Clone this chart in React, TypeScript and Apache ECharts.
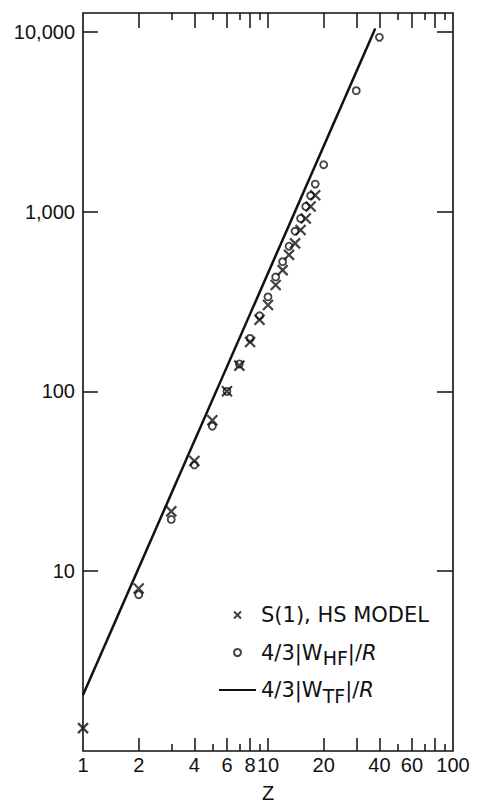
import React, { useEffect, useRef } from 'react';
import * as echarts from 'echarts';

// Z values and series
const hsZ = [1, 2, 3, 4, 5, 6, 7, 8, 9, 10, 11, 12, 13, 14, 15, 16, 17, 18];
const hsValues = [1.34, 8.0, 21.5, 41, 69, 100, 139, 188, 250, 302, 390, 472, 574, 665, 789, 915, 1066, 1230];

const hfZ = [2, 3, 4, 5, 6, 7, 8, 9, 10, 11, 12, 13, 14, 15, 16, 17, 18, 20, 30, 40];
const hfValues = [7.4, 19.4, 39, 64, 100, 142, 197, 263, 335, 432, 526, 641, 776, 915, 1066, 1225, 1420, 1820, 4700, 9300];

const tfZ = [1, 38];
const tfValues = [2.05, 10400];

const xLabelValues = [1, 2, 4, 6, 8, 10, 20, 40, 60, 100];
const xLabelTexts = ['1', '2', '4', '6', '8', '10', '20', '40', '60', '100'];
const xLongTicks = [2, 4, 6, 8, 10, 20, 30, 40, 60, 80];
const xShortTicks = [3, 5, 7, 9, 50, 70, 90];

const yTickValues = [10, 100, 1000, 10000];
const yTickTexts = ['10', '100', '1,000', '10,000'];

const nameHS = 'S(1), HS MODEL';
const nameHF = '4/3|WHF|/R';
const nameTF = '4/3|WTF|/R';

const AXIS_FONT = 'Liberation Sans';
const LEGEND_FONT = 'DejaVu Sans';
const INK = '#111';

function labelFor(values: number[], texts: string[], v: number): string {
  const i = values.findIndex((t) => Math.abs(t - v) / t < 1e-6);
  return i >= 0 ? texts[i] : '';
}

function xAxisBase(position: 'top' | 'bottom') {
  return {
    type: 'log',
    logBase: 10,
    position,
    min: 1,
    max: 100,
    gridIndex: 0,
    axisLine: { show: false },
    splitLine: { show: false },
    minorTick: { show: false },
    axisLabel: { show: false },
  };
}

export default function App() {
  const ref = useRef<HTMLDivElement>(null);

  useEffect(() => {
    const chart = echarts.init(ref.current!, null, { renderer: 'svg' });
    const tickStyle = { color: INK, width: 1.5 };
    const option: any = {
      animation: false,
      backgroundColor: '#fff',
      grid: {
        left: 83,
        right: 24,
        top: 13,
        bottom: 52,
        show: true,
        borderColor: INK,
        borderWidth: 1.6,
        backgroundColor: 'transparent',
      },
      xAxis: [
        {
          ...xAxisBase('bottom'),
          axisTick: { show: true, inside: true, length: 13, customValues: xLongTicks, lineStyle: tickStyle },
          axisLabel: {
            show: true,
            customValues: xLabelValues,
            formatter: (v: number) => labelFor(xLabelValues, xLabelTexts, v),
            margin: 4,
            color: INK,
            fontSize: 20,
            fontFamily: AXIS_FONT,
          },
          name: 'Z',
          nameLocation: 'middle',
          nameGap: 32,
          nameTextStyle: { color: INK, fontSize: 20, fontFamily: AXIS_FONT },
        },
        {
          ...xAxisBase('bottom'),
          axisTick: { show: true, inside: true, length: 7, customValues: xShortTicks, lineStyle: tickStyle },
        },
        {
          ...xAxisBase('top'),
          axisTick: { show: true, inside: true, length: 15, customValues: xLongTicks, lineStyle: tickStyle },
        },
        {
          ...xAxisBase('top'),
          axisTick: { show: true, inside: true, length: 7, customValues: xShortTicks, lineStyle: tickStyle },
        },
      ],
      yAxis: [
        {
          type: 'log',
          logBase: 10,
          position: 'left',
          min: 1,
          max: 12700,
          axisLine: { show: false },
          splitLine: { show: false },
          axisTick: { show: true, inside: true, length: 15, customValues: yTickValues, lineStyle: tickStyle },
          axisLabel: {
            customValues: yTickValues,
            formatter: (v: number) => labelFor(yTickValues, yTickTexts, v),
            margin: 8,
            color: INK,
            fontSize: 20,
            fontFamily: AXIS_FONT,
          },
        },
        {
          type: 'log',
          logBase: 10,
          position: 'right',
          min: 1,
          max: 12700,
          axisLine: { show: false },
          splitLine: { show: false },
          axisTick: { show: true, inside: true, length: 16, customValues: yTickValues, lineStyle: tickStyle },
          axisLabel: { show: false },
        },
      ],
      legend: {
        orient: 'vertical',
        left: 218,
        top: 600,
        padding: 0,
        itemWidth: 37,
        itemHeight: 7,
        itemGap: 7.5,
        selectedMode: false,
        data: [
          nameHS,
          nameHF,
          { name: nameTF, itemStyle: { color: 'transparent', borderWidth: 0, opacity: 0 } },
        ],
        formatter: (name: string) => {
          if (name === nameHF) return '4/3|W{sub|HF}|/{it|R}';
          if (name === nameTF) return '4/3|W{sub|TF}|/{it|R}';
          return name;
        },
        textStyle: {
          color: INK,
          fontSize: 21,
          fontFamily: LEGEND_FONT,
          lineHeight: 30,
          rich: {
            sub: { fontSize: 19, fontFamily: LEGEND_FONT, color: INK, lineHeight: 20, verticalAlign: 'bottom' },
            it: { fontSize: 21, fontFamily: LEGEND_FONT, fontStyle: 'italic', color: INK, lineHeight: 30 },
          },
        },
      },
      series: [
        {
          name: nameHS,
          type: 'scatter',
          xAxisIndex: 0,
          yAxisIndex: 0,
          clip: false,
          symbol: 'path://M0,0L10,10M0,10L10,0',
          symbolSize: 10,
          itemStyle: { color: 'transparent', borderColor: INK, borderWidth: 2.2 },
          data: hsZ.map((z, i) => [z, hsValues[i]]),
        },
        {
          name: nameHF,
          type: 'scatter',
          xAxisIndex: 0,
          yAxisIndex: 0,
          clip: false,
          symbol: 'circle',
          symbolSize: 7,
          itemStyle: { color: 'transparent', borderColor: INK, borderWidth: 1.8 },
          data: hfZ.map((z, i) => [z, hfValues[i]]),
        },
        {
          name: nameTF,
          type: 'line',
          xAxisIndex: 0,
          yAxisIndex: 0,
          symbol: 'none',
          lineStyle: { color: INK, width: 2.5 },
          itemStyle: { color: INK },
          data: tfZ.map((z, i) => [z, tfValues[i]]),
        },
      ],
    };
    chart.setOption(option);
    return () => chart.dispose();
  }, []);

  return (
    <div
      ref={ref}
      style={{ position: 'fixed', left: 0, top: 0, width: 477, height: 808, background: '#fff' }}
    />
  );
}
